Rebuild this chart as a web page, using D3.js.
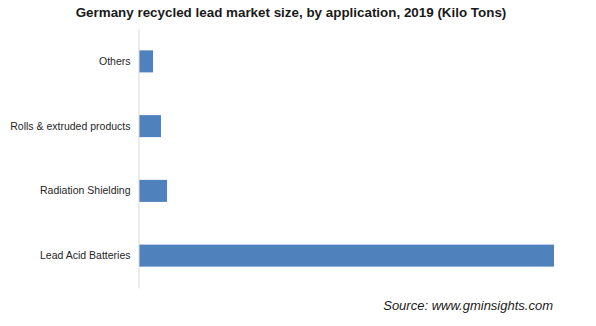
<!DOCTYPE html>
<html>
<head>
<meta charset="utf-8">
<script src="https://cdn.jsdelivr.net/npm/d3@7"></script>
<style>
  html, body { margin: 0; padding: 0; background: #fff; }
  svg { display: block; }
</style>
</head>
<body>
<svg id="chart" width="596" height="326"></svg>
<script>
const categories = ["Others", "Rolls & extruded products", "Radiation Shielding", "Lead Acid Batteries"];
const values = [12.5, 19.6, 25, 370];
const titleText = "Germany recycled lead market size, by application, 2019 (Kilo Tons)";
const sourceText = "Source: www.gminsights.com";

(function () {
const svg = d3.select("#chart");
const mLeft = 139, mRight = 554, mTop = 29, mBottom = 288;

const x = d3.scaleLinear().domain([0, 370]).range([mLeft, mRight]);
const y = d3.scaleBand().domain(categories).range([mTop, mBottom]).paddingInner(0.66).paddingOuter(0.33);

svg.append("text")
  .attr("x", 291).attr("y", 17)
  .attr("text-anchor", "middle")
  .attr("font-family", "Liberation Sans, Arial, sans-serif")
  .attr("font-weight", "bold")
  .attr("font-size", 13.4)
  .attr("fill", "#1a1a1a")
  .text(titleText);

svg.selectAll("rect.bar").data(categories).enter().append("rect")
  .attr("class", "bar")
  .attr("x", x(0))
  .attr("y", d => y(d))
  .attr("width", (d, i) => x(values[i]) - x(0))
  .attr("height", y.bandwidth())
  .attr("fill", "#4f81bd");

const yAxis = d3.axisLeft(y).tickSize(0).tickPadding(8);
const g = svg.append("g").attr("transform", `translate(${mLeft - 0.5},0)`).call(yAxis);
g.select(".domain").attr("stroke", "#d9d9d9").attr("stroke-width", 1);
g.selectAll("text")
  .attr("font-family", "Liberation Sans, Arial, sans-serif")
  .attr("font-size", 10.5)
  .attr("fill", "#262626");

svg.append("text")
  .attr("x", 553).attr("y", 310)
  .attr("text-anchor", "end")
  .attr("font-family", "Liberation Sans, Arial, sans-serif")
  .attr("font-style", "italic")
  .attr("font-size", 13)
  .attr("fill", "#1a1a1a")
  .text(sourceText);
})();
</script>
</body>
</html>
